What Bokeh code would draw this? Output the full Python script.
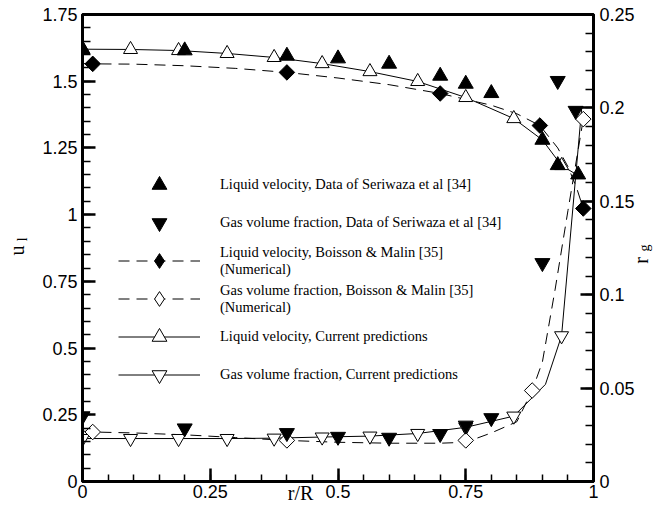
import numpy as np
from math import pi
from bokeh.plotting import figure
from bokeh.models import Range1d, LinearAxis, FixedTicker, Legend, LegendItem
from bokeh.embed import file_html
from bokeh.resources import INLINE

# ---------------- data ----------------
# Liquid velocity, data of Seriwaza et al [34]  (left axis u_l)
liq_data_x = [0.0, 0.2, 0.4, 0.5, 0.6, 0.7, 0.75, 0.8, 0.9, 0.93, 0.97]
liq_data_u = [1.62, 1.615, 1.595, 1.585, 1.565, 1.52, 1.49, 1.455, 1.28, 1.185, 1.15]

# Gas volume fraction, data of Seriwaza et al [34]  (right axis r_g)
gas_data_x = [0.0, 0.2, 0.4, 0.5, 0.6, 0.7, 0.75, 0.8, 0.9, 0.93, 0.965]
gas_data_rg = [0.035, 0.0285, 0.026, 0.024, 0.0235, 0.0255, 0.030, 0.034, 0.117, 0.2145, 0.1985]

# Liquid velocity, Boisson & Malin [35] (curve + markers)
bm_liq_x = [0.0, 0.02, 0.1, 0.2, 0.3, 0.4, 0.5, 0.6, 0.7, 0.8, 0.85, 0.895, 0.93, 0.95, 0.967, 0.98]
bm_liq_u = [1.566, 1.565, 1.564, 1.558, 1.548, 1.533, 1.512, 1.487, 1.454, 1.41, 1.378, 1.334, 1.25, 1.18, 1.10, 1.023]
bm_liq_mx = [0.02, 0.4, 0.7, 0.895, 0.98]
bm_liq_mu = [1.565, 1.533, 1.454, 1.334, 1.023]

# Gas volume fraction, Boisson & Malin [35] (curve + markers)
bm_gas_x = [0.0, 0.02, 0.1, 0.2, 0.3, 0.4, 0.5, 0.6, 0.7, 0.75, 0.8, 0.85, 0.88, 0.9, 0.925, 0.95, 0.98]
bm_gas_rg = [0.027, 0.0265, 0.026, 0.025, 0.0235, 0.022, 0.021, 0.0205, 0.0205, 0.021, 0.026, 0.032, 0.0487, 0.064, 0.103, 0.145, 0.194]
bm_gas_mx = [0.02, 0.4, 0.75, 0.88, 0.98]
bm_gas_mrg = [0.0265, 0.022, 0.022, 0.0487, 0.194]

# Liquid velocity, current predictions
cur_liq_x = [0.0, 0.094, 0.188, 0.283, 0.375, 0.469, 0.5625, 0.656, 0.75, 0.844, 0.9, 0.9375, 0.967]
cur_liq_u = [1.62, 1.619, 1.615, 1.604, 1.589, 1.566, 1.536, 1.499, 1.439, 1.36, 1.28, 1.184, 1.15]
cur_liq_mx = [0.0, 0.094, 0.188, 0.283, 0.375, 0.469, 0.5625, 0.656, 0.75, 0.844, 0.9375]
cur_liq_mu = [1.62, 1.619, 1.615, 1.604, 1.589, 1.566, 1.536, 1.499, 1.439, 1.36, 1.184]

# Gas volume fraction, current predictions
cur_gas_x = [0.0, 0.094, 0.188, 0.283, 0.375, 0.469, 0.5625, 0.656, 0.75, 0.844, 0.906, 0.9375, 0.977]
cur_gas_rg = [0.023, 0.023, 0.023, 0.023, 0.0232, 0.0238, 0.0243, 0.0257, 0.029, 0.035, 0.052, 0.078, 0.200]
cur_gas_mx = [0.0, 0.094, 0.188, 0.283, 0.375, 0.469, 0.5625, 0.656, 0.75, 0.844, 0.9375]
cur_gas_mrg = [0.023, 0.023, 0.023, 0.023, 0.0232, 0.0238, 0.0243, 0.0257, 0.029, 0.035, 0.078]

# ticks
x_ticks = [0, 0.25, 0.5, 0.75, 1]
x_tick_labels = ["0", "0.25", "0.5", "0.75", "1"]
u_ticks = [0, 0.25, 0.5, 0.75, 1, 1.25, 1.5, 1.75]
u_tick_labels = ["0", "0.25", "0.5", "0.75", "1", "1.25", "1.5", "1.75"]
rg_ticks = [0, 0.05, 0.1, 0.15, 0.2, 0.25]
rg_tick_labels = ["0", "0.05", "0.1", "0.15", "0.2", "0.25"]

labels = [
    "Liquid velocity, Data of Seriwaza et al [34]",
    "Gas volume fraction, Data of Seriwaza et al [34]",
    "Liquid velocity, Boisson & Malin [35]\n(Numerical)",
    "Gas volume fraction, Boisson & Malin [35]\n(Numerical)",
    "Liquid velocity, Current predictions",
    "Gas volume fraction, Current predictions",
]

NB = "\u00a0"
serif = "Liberation Serif"
sans = "Liberation Sans"

# ---------------- figure ----------------
p = figure(width=660, height=506, x_range=Range1d(0, 1), y_range=Range1d(0, 1.75),
           output_backend="svg", toolbar_location=None,
           min_border_left=82, min_border_right=67, min_border_top=14, min_border_bottom=25)
p.extra_y_ranges = {"rg": Range1d(0, 0.25)}

left_axis = p.yaxis[0]
bottom_axis = p.xaxis[0]
right_axis = LinearAxis(y_range_name="rg")
p.add_layout(right_axis, "right")

p.xgrid.visible = False
p.ygrid.visible = False
p.outline_line_color = "black"
p.outline_line_width = 3
p.outline_line_alpha = 1

bottom_axis.ticker = FixedTicker(ticks=x_ticks, minor_ticks=list(np.round(np.arange(0, 1.0001, 0.05), 3)))
bottom_axis.major_label_overrides = dict(zip(x_ticks, x_tick_labels))
left_axis.ticker = FixedTicker(ticks=u_ticks, minor_ticks=list(np.round(np.arange(0, 1.7501, 0.05), 3)))
left_axis.major_label_overrides = dict(zip(u_ticks, u_tick_labels))
right_axis.ticker = FixedTicker(ticks=rg_ticks, minor_ticks=list(np.round(np.arange(0, 0.2501, 0.01), 3)))
right_axis.major_label_overrides = dict(zip(rg_ticks, rg_tick_labels))

for ax in (left_axis, bottom_axis, right_axis):
    ax.axis_line_width = 3
    ax.axis_line_color = "black"
    ax.major_tick_in = 13
    ax.major_tick_out = 0
    ax.minor_tick_in = 8
    ax.minor_tick_out = 0
    ax.major_tick_line_width = 2.5
    ax.minor_tick_line_width = 1.5
    ax.major_tick_line_color = "black"
    ax.minor_tick_line_color = "black"
    ax.major_label_text_font = sans
    ax.major_label_text_font_size = "18px"
    ax.major_label_text_color = "black"
    ax.axis_label_text_font = serif
    ax.axis_label_text_font_style = "normal"
    ax.axis_label_text_font_size = "20px"
    ax.axis_label_text_color = "black"
bottom_axis.major_label_standoff = 3
bottom_axis.minor_tick_in = 7
left_axis.major_label_standoff = 5
right_axis.major_label_standoff = 6

# axis titles: u_l (left), r/R (bottom, in the tick-label row)
left_axis.axis_label = "u" + NB
left_axis.axis_label_standoff = 11
bottom_axis.axis_label = "r/R" + NB * 15
bottom_axis.axis_label_standoff = -19


def label_axis(text, size, standoff):
    """A tick-less, line-less left axis that only carries a (shifted) title."""
    ax = LinearAxis(ticker=FixedTicker(ticks=[]))
    ax.axis_line_alpha = 0
    ax.major_tick_line_alpha = 0
    ax.minor_tick_line_alpha = 0
    ax.major_tick_out = 0
    ax.major_tick_in = 0
    ax.minor_tick_out = 0
    ax.minor_tick_in = 0
    ax.axis_label = text
    ax.axis_label_standoff = standoff
    ax.axis_label_text_font = serif
    ax.axis_label_text_font_style = "normal"
    ax.axis_label_text_font_size = size
    ax.axis_label_text_color = "black"
    p.add_layout(ax, "left")
    return ax


# subscript of u_l, then r_g (read bottom-to-top, like the reference)
l_sub_axis = label_axis(NB * 5 + "l", "14px", -26)
r_title_axis = label_axis("r" + NB * 5, "20px", -648)
g_sub_axis = label_axis("g", "14px", -648)

# ---------------- glyphs ----------------
dash = "11 7"
r_bm_liq_line = p.line(bm_liq_x, bm_liq_u, line_color="black", line_width=1, line_dash=dash)
r_bm_gas_line = p.line(bm_gas_x, bm_gas_rg, line_color="black", line_width=1, line_dash=dash, y_range_name="rg")
r_cur_liq_line = p.line(cur_liq_x, cur_liq_u, line_color="black", line_width=1)
r_cur_gas_line = p.line(cur_gas_x, cur_gas_rg, line_color="black", line_width=1, y_range_name="rg")

r_cur_liq_pts = p.scatter(cur_liq_mx, cur_liq_mu, marker="triangle", size=14,
                          fill_color="white", line_color="black", line_width=1)
r_cur_gas_pts = p.scatter(cur_gas_mx, cur_gas_mrg, marker="inverted_triangle", size=14,
                          fill_color="white", line_color="black", line_width=1, y_range_name="rg")

# diamond keys for the legend (legend glyphs are never rotated); they sit
# underneath the rotated squares below and are fully covered by them
key_bm_gas = p.scatter(bm_gas_mx, bm_gas_mrg, marker="diamond", size=14,
                       fill_color="white", line_color="black", line_width=1, y_range_name="rg")
key_bm_liq = p.scatter(bm_liq_mx, bm_liq_mu, marker="diamond", size=14,
                       fill_color="black", line_color="black", line_width=1)

r_bm_gas_pts = p.scatter(bm_gas_mx, bm_gas_mrg, marker="square", angle=pi / 4, size=11,
                         fill_color="white", line_color="black", line_width=1, y_range_name="rg")
r_bm_liq_pts = p.scatter(bm_liq_mx, bm_liq_mu, marker="square", angle=pi / 4, size=11,
                         fill_color="black", line_color="black", line_width=1)
r_liq_data = p.scatter(liq_data_x, liq_data_u, marker="triangle", size=15,
                       fill_color="black", line_color="black")
r_gas_data = p.scatter(gas_data_x, gas_data_rg, marker="inverted_triangle", size=15,
                       fill_color="black", line_color="black", y_range_name="rg")

legend = Legend(items=[
    LegendItem(label=labels[0], renderers=[r_liq_data]),
    LegendItem(label=labels[1], renderers=[r_gas_data]),
    LegendItem(label=labels[2], renderers=[r_bm_liq_line, key_bm_liq]),
    LegendItem(label=labels[3], renderers=[r_bm_gas_line, key_bm_gas]),
    LegendItem(label=labels[4], renderers=[r_cur_liq_line, r_cur_liq_pts]),
    LegendItem(label=labels[5], renderers=[r_cur_gas_line, r_cur_gas_pts]),
], location=(36, 88), orientation="vertical", glyph_width=82, glyph_height=37,
   spacing=1, label_standoff=20, padding=0, margin=0,
   border_line_alpha=0, background_fill_alpha=0,
   label_text_font=serif, label_text_font_size="14.5px",
   label_text_color="black", label_text_line_height=0.95)
p.add_layout(legend)

open("out.html", "w").write(file_html(p, INLINE))
